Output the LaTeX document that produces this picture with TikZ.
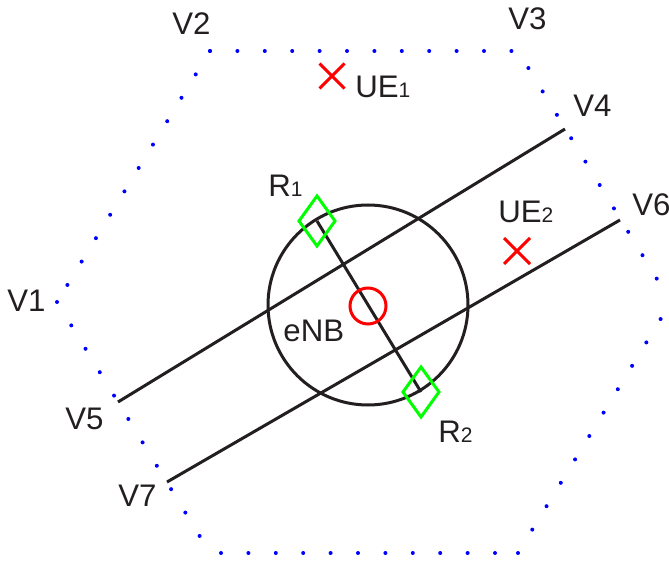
\documentclass[tikz,border=0pt]{standalone}
\usepackage{fontspec}
\setmainfont{Liberation Sans}
\definecolor{ink}{RGB}{35,31,32}
\begin{document}
\begin{tikzpicture}[x=0.5pt,y=-0.5pt,
  lbl/.style={anchor=base west,inner sep=0pt,text=ink,font=\fontsize{15.6}{18}\selectfont},
  hexline/.style={blue,line width=2pt,line cap=round,dash pattern=on 0pt off 13.7pt},
  blk/.style={ink,line width=1.5pt},
  relay/.style={green,line width=1.5pt,line join=miter},
  uecross/.style={red,line width=1.5pt}]
\useasboundingbox (0,0) rectangle (669,561);
\newcommand{\sbs}[1]{{\fontsize{10.5}{12}\selectfont #1}}
% hexagon vertices
\coordinate (h1) at (57,302);
\coordinate (h2) at (210,51);
\coordinate (h3) at (518,51);
\coordinate (h4) at (671,302);
\coordinate (h5) at (518,553);
\coordinate (h6) at (210,553);
\coordinate (h6b) at (221,553);
\draw[hexline] (h2) -- (h3);
\draw[hexline] (h2) -- (h1);
\draw[hexline] (h1) -- (h6);
\draw[hexline] (h6b) -- (h5);
\draw[hexline] (h4) -- (h3);
\draw[hexline] (h5) -- (h4);
% line end points
\coordinate (v4) at (565,129);
\coordinate (v5) at (118,402);
\coordinate (v6) at (620,220);
\coordinate (v7) at (167,482);
\coordinate (c) at (368,305);
\coordinate (r1) at (317,221);
\coordinate (r2) at (421,392);
\draw[blk] (c) circle[radius=100];
\draw[blk] (v5) -- (v4);
\draw[blk] (v7) -- (v6);
\draw[blk] (r1) -- (r2);
% relays
\draw[relay] (r1) +(0,-25) -- +(18,0) -- +(0,25) -- +(-18,0) -- cycle;
\draw[relay] (r2) +(0,-25) -- +(18,0) -- +(0,25) -- +(-18,0) -- cycle;
% eNB
\node[draw=red,line width=1.5pt,circle,minimum size=18pt,inner sep=0pt] (enb) at (368,306) {};
% UEs
\coordinate (ue1) at (332,76);
\coordinate (ue2) at (517,251);
\draw[uecross] (ue1) +(-12.5,-12.5) -- +(12.5,12.5) (ue1) +(-12.5,12.5) -- +(12.5,-12.5);
\draw[uecross] (ue2) +(-13,-13) -- +(13,13) (ue2) +(-13,13) -- +(13,-13);
% labels
\node[lbl] (tV1) at (7,311) {V1};
\node[lbl] (tV2) at (172,35) {V2};
\node[lbl] (tV3) at (508,30) {V3};
\node[lbl] (tV4) at (573,117) {V4};
\node[lbl] (tV5) at (65,429) {V5};
\node[lbl] (tV6) at (632,216) {V6};
\node[lbl] (tV7) at (118,506) {V7};
\node[lbl] (tUE1) at (355,98) {UE\sbs{1}};
\node[lbl] (tUE2) at (498,223) {UE\sbs{2}};
\node[lbl] (tR1) at (268,197) {R\sbs{1}};
\node[lbl] (tR2) at (438,442) {R\sbs{2}};
\node[lbl] (tenb) at (283,341) {eNB};
\end{tikzpicture}
\end{document}
